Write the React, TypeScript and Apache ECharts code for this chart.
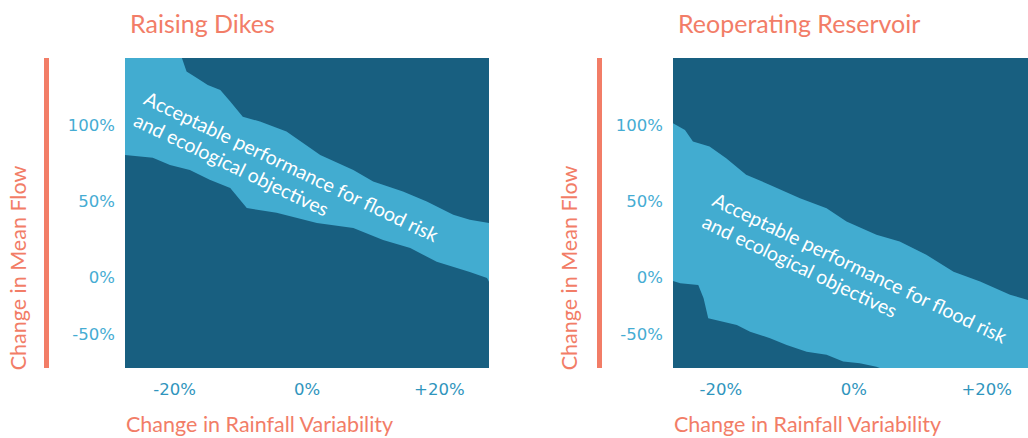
import React, { useEffect, useRef } from 'react';
import * as echarts from 'echarts';

const xTickValues = [-20, 0, 20];
const xTickLabels = ['-20%', '0%', '+20%'];
const yTickValues = [-37, 0, 50, 100];
const yTickLabels = ['-50%', '0%', '50%', '100%'];

const panelTitles = ['Raising Dikes', 'Reoperating Reservoir'];
const xAxisTitle = 'Change in Rainfall Variability';
const yAxisTitle = 'Change in Mean Flow';
const bandText = 'Acceptable performance for flood risk\nand ecological objectives';

// Raising Dikes: upper and lower edges of the acceptable band
const dikesUpperX = [-27.5, -18.9, -18.2, -16.7, -15.0, -13.1, -11.6, -9.7, -7.1, -3.1, -0.6, 2.0, 7.0, 10.0, 14.5, 18.1, 22.1, 24.6, 27.5];
const dikesUpperY = [144, 144, 135.1, 131, 126.4, 123.1, 115.5, 105.6, 102.4, 95.8, 88.4, 80.5, 70.7, 63.1, 56.5, 50.0, 41.3, 38.0, 36.0];
const dikesLowerX = [-27.5, -23.3, -20.7, -17.7, -14.7, -11.6, -9.1, -4.6, 1.5, 7.0, 11.5, 15.6, 19.6, 24.6, 27.2, 27.5];
const dikesLowerY = [80.5, 78.6, 74.0, 70.7, 64.2, 58.9, 45.8, 42.6, 36.0, 32.7, 24.9, 19.6, 10.5, 3.9, 0, -2.6];

// Reoperating Reservoir
const resUpperX = [-27.2, -25.4, -24.2, -21.7, -19.2, -16.2, -12.6, -8.1, -4.1, -1.1, 3.4, 6.9, 10.9, 15.0, 19.0, 23.5, 26.2];
const resUpperY = [101.3, 96.9, 89.3, 86.0, 78.4, 67.5, 60.9, 52.2, 45.6, 36.9, 28.2, 23.8, 15.1, 4.1, -2.4, -11.1, -14.4];
const resLowerX = [-27.2, -26.1, -23.4, -22.6, -21.9, -17.6, -15.6, -12.6, -10.1, -7.1, -4.1, -1.6, 0.9, 3.4, 3.9, 26.2];
const resLowerY = [-2.0, -3.5, -4.6, -13.3, -26.4, -30.8, -35.2, -39.5, -43.9, -48.3, -50.4, -54.8, -55.9, -58.1, -59, -59];

const DARK = '#185f80';
const LIGHT = '#42acd0';
const SALMON = '#f27d67';
const FONT = 'Lato, "Open Sans", sans-serif';
const TICK_FONT = '"DejaVu Sans", sans-serif';

const zip = (xs: number[], ys: number[]) => xs.map((x, i) => [x, ys[i]]);

export default function App() {
  const ref = useRef<HTMLDivElement>(null);
  useEffect(() => {
    if (!ref.current) return;
    const chart = echarts.init(ref.current, null, { renderer: 'svg' });
    const mkX = (gridIndex: number, min: number, max: number) => ({
      type: 'value', gridIndex, min, max,
      axisLine: { show: false }, axisTick: { show: false }, splitLine: { show: false },
      axisLabel: {
        customValues: xTickValues,
        formatter: (v: number) => xTickLabels[xTickValues.indexOf(v)] ?? '',
        margin: 13, color: '#2f95bd', fontSize: 16.5, fontFamily: TICK_FONT,
      },
    });
    const mkY = (gridIndex: number) => ({
      type: 'value', gridIndex, min: -59, max: 144,
      axisLine: { show: false }, axisTick: { show: false }, splitLine: { show: false },
      axisLabel: {
        customValues: yTickValues,
        formatter: (v: number) => yTickLabels[yTickValues.indexOf(v)] ?? '',
        margin: 10, color: '#45acd3', fontSize: 16.5, fontFamily: TICK_FONT,
      },
    });
    const area = (idx: number, xs: number[], ys: number[], color: string) => ({
      type: 'line', xAxisIndex: idx, yAxisIndex: idx, data: zip(xs, ys),
      symbol: 'none', lineStyle: { width: 0 }, silent: true,
      areaStyle: { color, opacity: 1, origin: 'start' },
    });
    const titleStyle = { color: SALMON, fontSize: 25, fontWeight: 'normal', fontFamily: FONT };
    const axisTitleStyle = { fill: SALMON, fontSize: 21.5, fontFamily: FONT };
    const bandStyle = {
      text: bandText, fill: '#ffffff', fontSize: 19.5, lineHeight: 24, fontFamily: FONT,
      align: 'left', verticalAlign: 'top',
    };
    const rot = (-25.5 * Math.PI) / 180;
    chart.setOption({
      animation: false,
      backgroundColor: '#ffffff',
      title: [
        { text: panelTitles[0], left: 125, top: 5, textStyle: titleStyle },
        { text: panelTitles[1], left: 673, top: 5, textStyle: titleStyle },
      ],
      grid: [
        { left: 125, top: 58, width: 364, height: 310, show: true, backgroundColor: DARK, borderWidth: 0 },
        { left: 673, top: 58, width: 355, height: 310, show: true, backgroundColor: DARK, borderWidth: 0 },
      ],
      xAxis: [mkX(0, -27.5, 27.5), mkX(1, -27.2, 26.2)],
      yAxis: [mkY(0), mkY(1)],
      series: [
        area(0, dikesUpperX, dikesUpperY, LIGHT),
        area(0, dikesLowerX, dikesLowerY, DARK),
        area(1, resUpperX, resUpperY, LIGHT),
        area(1, resLowerX, resLowerY, DARK),
      ],
      graphic: [
        { type: 'rect', left: 44, top: 58, shape: { width: 5, height: 310 }, style: { fill: SALMON }, z: 100 },
        { type: 'rect', left: 597, top: 58, shape: { width: 5, height: 310 }, style: { fill: SALMON }, z: 100 },
        { type: 'text', x: 18, y: 268, rotation: Math.PI / 2, style: { ...axisTitleStyle, text: yAxisTitle, align: 'center', verticalAlign: 'middle' }, z: 100 },
        { type: 'text', x: 569, y: 268, rotation: Math.PI / 2, style: { ...axisTitleStyle, text: yAxisTitle, align: 'center', verticalAlign: 'middle' }, z: 100 },
        { type: 'text', x: 126, y: 424, style: { ...axisTitleStyle, text: xAxisTitle, align: 'left', verticalAlign: 'middle' }, z: 100 },
        { type: 'text', x: 674, y: 424, style: { ...axisTitleStyle, text: xAxisTitle, align: 'left', verticalAlign: 'middle' }, z: 100 },
        { type: 'text', x: 151, y: 86, rotation: rot, style: bandStyle, z: 100 },
        { type: 'text', x: 719.5, y: 187.5, rotation: rot, style: bandStyle, z: 100 },
      ],
    });
    return () => chart.dispose();
  }, []);
  return <div ref={ref} style={{ position: 'fixed', left: 0, top: 0, width: 1028, height: 438 }} />;
}
